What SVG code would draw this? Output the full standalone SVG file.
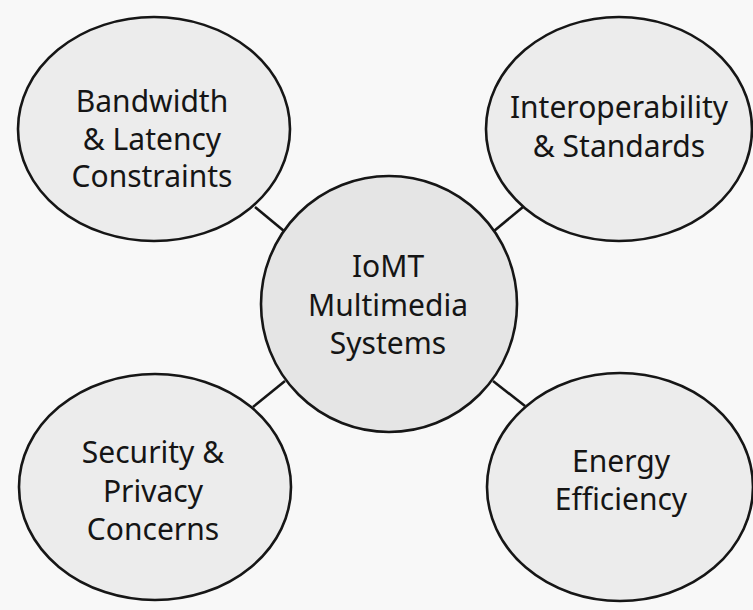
<svg xmlns="http://www.w3.org/2000/svg" width="753" height="610" viewBox="0 0 753 610">
<style>
.node{fill:#ececec;stroke:#161616;stroke-width:2.6}
.center{fill:#e5e5e5;stroke:#161616;stroke-width:2.6}
.edge{stroke:#161616;stroke-width:2.6;fill:none}
text{font-family:"Noto Sans","Open Sans","Liberation Sans",sans-serif;font-size:30px;fill:#151515;text-anchor:middle}
</style>
<rect width="753" height="610" fill="#f8f8f8"/>
<g id="connectors">
<line class="edge" x1="255" y1="207" x2="284" y2="231"/>
<line class="edge" x1="523" y1="207" x2="494" y2="231"/>
<line class="edge" x1="285" y1="381" x2="253" y2="407"/>
<line class="edge" x1="493" y1="381" x2="525" y2="406"/>
</g>
<g id="center">
<circle class="center" cx="389" cy="304" r="128"/>
<text x="388" y="277">IoMT</text>
<text x="388" y="316">Multimedia</text>
<text x="388" y="354">Systems</text>
</g>
<g id="bandwidth">
<ellipse class="node" cx="154" cy="129" rx="136" ry="112"/>
<text x="152" y="112">Bandwidth</text>
<text x="152" y="150">&amp; Latency</text>
<text x="152" y="187">Constraints</text>
</g>
<g id="interoperability">
<ellipse class="node" cx="619" cy="129" rx="133" ry="112"/>
<text x="619" y="118">Interoperability</text>
<text x="619" y="157">&amp; Standards</text>
</g>
<g id="security">
<ellipse class="node" cx="155" cy="487" rx="136" ry="113"/>
<text x="153" y="463">Security &amp;</text>
<text x="153" y="502">Privacy</text>
<text x="153" y="540">Concerns</text>
</g>
<g id="energy">
<ellipse class="node" cx="620" cy="487" rx="133" ry="114"/>
<text x="621" y="472">Energy</text>
<text x="621" y="510">Efficiency</text>
</g>
</svg>
